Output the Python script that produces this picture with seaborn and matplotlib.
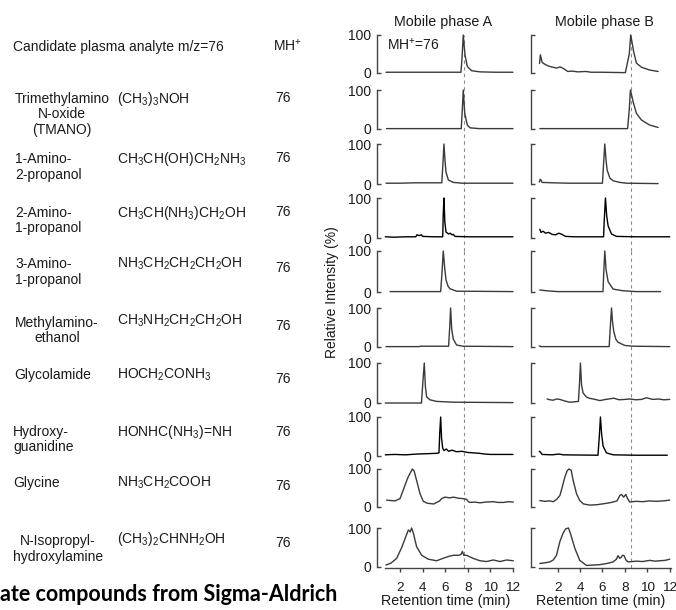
import numpy as np
import pandas as pd
import matplotlib
matplotlib.use('Agg')
import matplotlib.pyplot as plt
import seaborn as sns

# ---- table text ----
header = "Candidate plasma analyte m/z=76"
mh_header = "MH$^{+}$"
compound_lines = [["Trimethylamino", "N-oxide", "(TMANO)"],
                  ["1-Amino-", "2-propanol"],
                  ["2-Amino-", "1-propanol"],
                  ["3-Amino-", "1-propanol"],
                  ["Methylamino-", "ethanol"],
                  ["Glycolamide"],
                  ["Hydroxy-", "guanidine"],
                  ["Glycine"],
                  ["N-Isopropyl-", "hydroxylamine"]]
formulas = ["(CH$_3$)$_3$NOH", "CH$_3$CH(OH)CH$_2$NH$_3$", "CH$_3$CH(NH$_3$)CH$_2$OH",
            "NH$_3$CH$_2$CH$_2$CH$_2$OH", "CH$_3$NH$_2$CH$_2$CH$_2$OH", "HOCH$_2$CONH$_3$",
            "HONHC(NH$_3$)=NH", "NH$_3$CH$_2$COOH", "(CH$_3$)$_2$CHNH$_2$OH"]
mh_values = [76, 76, 76, 76, 76, 76, 76, 76, 76]
footer = "ate compounds from Sigma-Aldrich"

# ---- chromatograms: (retention time [min], relative intensity [%]) ----
plasma_a = [(0.76, 2), (3, 2), (5, 2), (7.4, 2), (7.5, 45), (7.6, 100), (7.75, 48), (7.96, 17),
            (8.34, 6), (9.08, 3), (10.5, 2), (12, 2)]
plasma_b = [(0.37, 25), (0.45, 48), (0.6, 28), (0.9, 22), (1.3, 17), (1.9, 13), (2.2, 16), (2.5, 12),
            (2.9, 4), (3.3, 5), (3.8, 3), (4.5, 4), (5.0, 2), (6, 2), (7.9, 1), (8.05, 1), (8.4, 50),
            (8.53, 100), (8.65, 80), (8.8, 55), (9.04, 26), (9.5, 15), (10.2, 8), (10.98, 4)]
tmano_a = [(0.8, 1), (4, 1), (7.42, 1), (7.5, 40), (7.6, 100), (7.73, 40), (7.96, 10), (8.2, 3),
           (9, 1), (12, 1)]
tmano_b = [(0.4, 1), (3, 1), (6, 1), (8.25, 1), (8.4, 50), (8.5, 100), (8.6, 88), (8.74, 70),
           (9.04, 40), (9.49, 23), (10.23, 10), (10.98, 4)]
amino2prop_a = [(0.76, 2), (2, 2), (3.3, 3), (3.8, 3), (4.5, 3), (5.7, 3), (5.8, 50), (5.89, 100),
                (5.98, 60), (6.07, 30), (6.28, 10), (6.72, 4), (7.5, 2), (12, 2)]
amino2prop_b = [(0.35, 5), (0.45, 12), (0.6, 4), (1.5, 3), (3, 2), (6.0, 2), (6.1, 50), (6.21, 100),
                (6.32, 60), (6.42, 35), (6.66, 15), (6.96, 8), (7.55, 4), (8.15, 2), (10.98, 1)]
amino1prop_a = [(0.7, 3), (1.5, 2), (2.5, 3), (3.4, 3), (3.5, 8), (3.7, 6), (3.9, 8), (4.0, 4),
                (5.0, 3), (5.78, 3), (5.83, 60), (5.89, 100), (5.97, 40), (6.07, 15), (6.3, 10),
                (6.45, 12), (6.6, 8), (6.72, 9), (6.87, 4), (8, 3), (10, 3), (12, 3)]
amino1prop_b = [(0.4, 22), (0.5, 14), (0.7, 17), (0.9, 12), (1.2, 14), (1.5, 9), (1.8, 8), (2.1, 12),
                (2.3, 10), (2.7, 4), (3.5, 3), (6.1, 3), (6.17, 50), (6.27, 100), (6.38, 55),
                (6.51, 30), (6.81, 10), (7.26, 4), (9, 3), (12.02, 3)]
amino3prop_a = [(1.12, 1), (4, 1), (5.6, 1), (5.7, 40), (5.83, 100), (5.95, 60), (6.07, 30),
                (6.25, 14), (6.42, 8), (7.01, 2), (12, 1)]
amino3prop_b = [(0.4, 5), (1.0, 3), (2.0, 1), (6.05, 1), (6.12, 50), (6.21, 100), (6.32, 55),
                (6.51, 25), (6.96, 7), (7.85, 3), (9, 1), (11.2, 1)]
mae_a = [(0.76, 1), (3.7, 1), (3.8, 2), (6.3, 2), (6.4, 50), (6.48, 100), (6.58, 45), (6.72, 20),
         (7.01, 5), (7.6, 2), (12, 1)]
mae_b = [(0.35, 3), (0.5, 1), (6.6, 1), (6.7, 50), (6.81, 100), (6.9, 65), (7.01, 40), (7.2, 20),
         (7.4, 12), (8.0, 4), (8.74, 2), (12.02, 1)]
glycolamide_a = [(0.7, 0), (3.9, 0), (4.02, 50), (4.15, 100), (4.25, 40), (4.36, 15), (4.65, 8),
                 (5.24, 4), (6.72, 2), (12, 1)]
glycolamide_b = [(1.05, 10), (1.3, 8), (1.59, 7), (1.9, 10), (2.19, 9), (2.63, 5), (3.08, 2),
                 (3.53, 3), (3.85, 4), (3.95, 50), (4.03, 100), (4.13, 45), (4.27, 25), (4.57, 15),
                 (4.8, 12), (5.17, 10), (5.5, 8), (5.76, 6), (6.3, 9), (7.01, 12), (7.5, 8), (8.0, 9),
                 (8.44, 10), (9.0, 8), (9.5, 9), (9.93, 13), (10.5, 9), (11, 10), (11.5, 8), (12.02, 9)]
hydroxyguan_a = [(0.7, 3), (1.5, 4), (2.5, 3), (3.5, 5), (4.5, 6), (5.3, 7), (5.45, 8), (5.52, 60),
                 (5.6, 100), (5.68, 45), (5.78, 20), (5.9, 14), (6.1, 18), (6.3, 12), (6.6, 15),
                 (7.0, 11), (7.5, 12), (8.0, 9), (8.5, 8), (9.0, 7), (9.5, 5), (10, 4), (11, 4), (12, 4)]
hydroxyguan_b = [(0.35, 12), (0.45, 10), (0.6, 4), (1.5, 3), (2.1, 5), (2.5, 3), (5.6, 2),
                 (5.72, 50), (5.82, 100), (5.93, 55), (6.06, 25), (6.36, 8), (6.96, 3), (9, 2),
                 (11.8, 2)]
glycine_a = [(0.82, 18), (1.2, 17), (1.56, 16), (2.0, 22), (2.29, 45), (2.6, 70), (2.74, 80),
             (2.95, 92), (3.09, 100), (3.25, 95), (3.47, 70), (3.77, 35), (4.06, 15), (4.4, 10),
             (4.65, 9), (5.0, 8), (5.24, 12), (5.5, 16), (5.69, 22), (5.98, 26), (6.4, 24),
             (6.72, 26), (7.2, 23), (7.6, 22), (7.9, 20), (8.05, 14), (8.19, 12), (8.6, 13),
             (9.08, 11), (9.6, 13), (10.26, 14), (10.7, 12), (11.14, 12), (11.6, 14), (12.03, 13)]
glycine_b = [(0.4, 17), (0.8, 15), (1.3, 16), (1.6, 14), (1.9, 20), (2.19, 30), (2.4, 52),
             (2.63, 78), (2.84, 95), (3.0, 100), (3.2, 97), (3.38, 70), (3.68, 35), (3.97, 17),
             (4.3, 8), (4.87, 5), (5.5, 6), (6.2, 9), (6.8, 12), (7.3, 16), (7.55, 30), (7.7, 33),
             (7.9, 26), (8.09, 33), (8.25, 22), (8.44, 13), (9.0, 15), (9.6, 14), (10.2, 16),
             (10.8, 15), (11.4, 16), (12.02, 18)]
isopropyl_a = [(0.76, 5), (1.2, 10), (1.7, 22), (2.15, 50), (2.44, 72), (2.74, 95), (2.9, 90),
               (3.03, 100), (3.18, 87), (3.47, 52), (3.92, 30), (4.51, 20), (5.24, 16), (5.98, 24),
               (6.4, 28), (6.72, 30), (7.16, 30), (7.4, 32), (7.52, 40), (7.65, 30), (7.9, 30),
               (8.49, 22), (9.08, 16), (9.67, 14), (10.26, 18), (10.85, 14), (11.44, 18), (12.03, 16)]
isopropyl_b = [(0.4, 9), (0.9, 11), (1.29, 13), (1.6, 18), (1.89, 30), (2.19, 65), (2.48, 87),
               (2.72, 98), (2.96, 100), (3.17, 83), (3.53, 48), (3.97, 17), (4.57, 4), (5.2, 5),
               (5.76, 6), (6.4, 9), (6.95, 13), (7.25, 20), (7.4, 29), (7.55, 22), (7.64, 24),
               (7.8, 30), (7.94, 29), (8.1, 18), (8.3, 13), (9.04, 15), (9.6, 14), (10.23, 17),
               (10.7, 15), (11.13, 16), (11.6, 17), (12.02, 20)]

traces_a = [plasma_a, tmano_a, amino2prop_a, amino1prop_a, amino3prop_a,
            mae_a, glycolamide_a, hydroxyguan_a, glycine_a, isopropyl_a]
traces_b = [plasma_b, tmano_b, amino2prop_b, amino1prop_b, amino3prop_b,
            mae_b, glycolamide_b, hydroxyguan_b, glycine_b, isopropyl_b]
dashed_rt = [7.66, 8.53]
xticks = [2, 4, 6, 8, 10, 12]

# ---- style ----
sns.set_theme(style='white')
plt.rcParams['font.family'] = ['Liberation Sans', 'DejaVu Sans']
plt.rcParams['mathtext.fontset'] = 'custom'
plt.rcParams['mathtext.rm'] = 'Liberation Sans'
plt.rcParams['mathtext.it'] = 'Liberation Sans:italic'
plt.rcParams['mathtext.bf'] = 'Liberation Sans:bold'

W, H = 676, 610
fig = plt.figure(figsize=(W / 100, H / 100), dpi=100)
fs = 10
txt_col = '#1a1a1a'


def fx(x):
    return x / W


def fy(y):
    return 1 - y / H


# left table
fig.text(fx(13), fy(50.5), header, fontsize=fs, color=txt_col, va='baseline')
fig.text(fx(273), fy(50.5), mh_header, fontsize=fs, color=txt_col, va='baseline')
name_y = [97.7, 157.7, 211.7, 263.3, 321.7, 374, 430.7, 481.7, 540]
formula_y = [97.7, 157.7, 211.7, 263, 320, 374, 430.7, 481.7, 538.3]
mh_y = [97, 157, 211, 266.7, 325, 378, 430.7, 485, 541.7]
name_x = [62, 15, 15, 15, 57, 14, 13, 13, 58]
name_ha = ['center', 'left', 'left', 'left', 'center', 'left', 'left', 'left', 'center']
for i, lines in enumerate(compound_lines):
    for k, line in enumerate(lines):
        fig.text(fx(name_x[i]), fy(name_y[i] + 5 + k * 15.8), line, fontsize=fs,
                 color=txt_col, ha=name_ha[i], va='baseline')
    fig.text(fx(117), fy(formula_y[i] + 5), formulas[i], fontsize=fs, color=txt_col,
             va='baseline')
    fig.text(fx(275), fy(mh_y[i] + 5), str(mh_values[i]), fontsize=fs, color=txt_col,
             va='baseline')

fig.text(fx(0), fy(601), footer, fontsize=15.5, fontfamily='Lato', fontweight='bold',
         color='black', va='baseline', ha='left')

# chromatogram grid
row_top = [35, 90, 144, 198, 251, 308, 363, 417, 469, 528]
row_bot = [73, 129, 184, 238, 292, 347, 403, 456, 507, 567]
col_left = [377.4, 530.9]
col_width = [136.7, 140.3]
col_xlim = [(0, 12.1), (-0.4, 12.15)]
col_xbounds = [(0.7, 12), (0.3, 12.1)]
line_col = '#3a3a3a'
spine_col = '#444444'
dark_rows = [3, 7]

for c, traces in enumerate([traces_a, traces_b]):
    for r, tr in enumerate(traces):
        top, bot = row_top[r], row_bot[r]
        h = bot - top
        ax = fig.add_axes([fx(col_left[c]), fy(bot), fx(col_width[c]), h / H])
        df = pd.DataFrame(tr, columns=['rt', 'intensity'])
        lc = 'black' if r in dark_rows else line_col
        sns.lineplot(data=df, x='rt', y='intensity', ax=ax, color=lc, linewidth=1.0,
                     clip_on=False)
        ax.set_xlim(*col_xlim[c])
        ax.set_ylim(0, 100)
        ax.set_facecolor('none')
        for s in ['top', 'right']:
            ax.spines[s].set_visible(False)
        ax.spines['left'].set_bounds(0, 100)
        ax.spines['left'].set_color(spine_col)
        ax.spines['left'].set_linewidth(1.0)
        ax.set_yticks([0, 100])
        ax.tick_params(axis='y', left=True, direction='in', length=3, width=1.0,
                       color=spine_col, pad=4.5, labelsize=fs, labelcolor=txt_col)
        if c == 1:
            ax.set_yticklabels([])
        ax.set_ylabel('')
        # dashed reference line, extended through the gap below
        if r < len(traces) - 1:
            gap = (row_top[r + 1] - bot) / h
        else:
            gap = 0.03
        ax.axvline(dashed_rt[c], ymin=-gap, ymax=1, color='#8a8a8a', lw=0.8,
                   ls=(0, (3, 3)), clip_on=False, zorder=0)
        if r == len(traces) - 1:
            ax.spines['bottom'].set_bounds(*col_xbounds[c])
            ax.spines['bottom'].set_position(('outward', 1))
            ax.spines['bottom'].set_color(spine_col)
            ax.spines['bottom'].set_linewidth(1.0)
            ax.set_xticks(xticks)
            ax.tick_params(axis='x', bottom=True, direction='out', length=3, width=1.0,
                           color=spine_col, pad=7, labelsize=fs - 0.3, labelcolor=txt_col)
            ax.set_xlabel('Retention time (min)', fontsize=fs + 0.3, color=txt_col, labelpad=0)
        else:
            ax.spines['bottom'].set_visible(False)
            ax.set_xticks([])
            ax.set_xlabel('')
        if c == 0 and r == 0:
            ax.text(0.07, 0.76, 'MH$^{+}$=76', transform=ax.transAxes, fontsize=fs,
                    color=txt_col, va='center', ha='left')

fig.text(fx(443), fy(22), 'Mobile phase A', fontsize=fs + 0.3, color=txt_col,
         ha='center', va='center')
fig.text(fx(604), fy(22), 'Mobile phase B', fontsize=fs + 0.3, color=txt_col,
         ha='center', va='center')
fig.text(fx(332), fy(292), 'Relative Intensity (%)', fontsize=fs, color=txt_col,
         rotation=90, ha='center', va='center')

fig.savefig('out.png', dpi=100)
